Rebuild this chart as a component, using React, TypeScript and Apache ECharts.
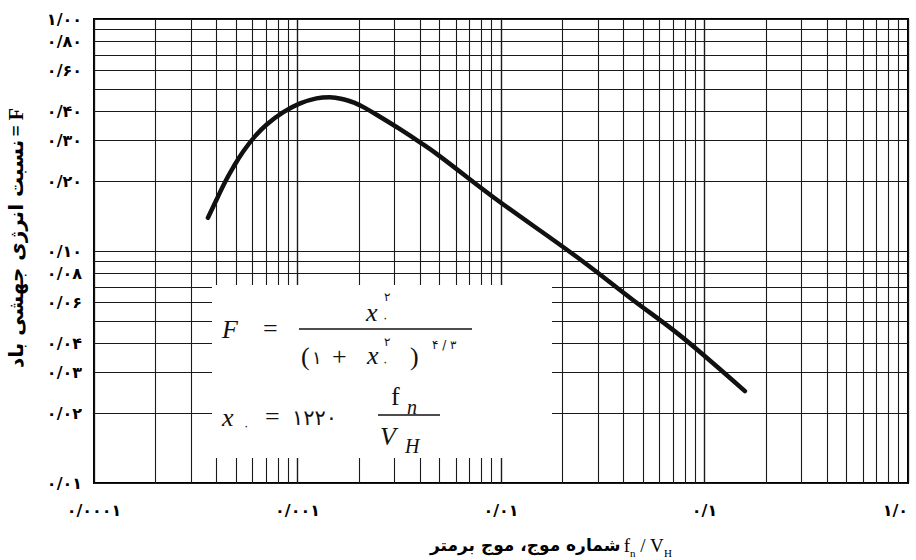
import React, { useEffect, useRef } from "react";
import * as echarts from "echarts";

// Tick labels (Persian digits)
const xTickValues = [0.0001, 0.001, 0.01, 0.1, 1];
const xTickLabels = ["۰/۰۰۰۱", "۰/۰۰۱", "۰/۰۱", "۰/۱", "۱/۰"];
const yTickValues = [1, 0.8, 0.6, 0.4, 0.3, 0.2, 0.1, 0.08, 0.06, 0.04, 0.03, 0.02, 0.01];
const yTickLabels = ["۱/۰۰", "۰/۸۰", "۰/۶۰", "۰/۴۰", "۰/۳۰", "۰/۲۰", "۰/۱۰", "۰/۰۸", "۰/۰۶", "۰/۰۴", "۰/۰۳", "۰/۰۲", "۰/۰۱"];

// Grid-line multipliers within each decade
const gridMultipliers = [1, 2, 3, 4, 5, 6, 7, 8, 9];
const xDecades = [0.0001, 0.001, 0.01, 0.1];
const yDecades = [0.01, 0.1];

// Curve: wave number f_n / V_H vs. energy ratio F
const waveNumber = [
  0.000363, 0.000401, 0.00044, 0.000484, 0.000542, 0.000618, 0.000706,
  0.000852, 0.00103, 0.00124, 0.00144, 0.00168, 0.00192, 0.00211, 0.00254,
  0.00319, 0.004, 0.00492, 0.00914, 0.0236, 0.0445, 0.07, 0.095, 0.158,
];
const energyRatio = [
  0.139, 0.167, 0.198, 0.230, 0.269, 0.312, 0.351,
  0.397, 0.433, 0.455, 0.460, 0.451, 0.434, 0.417, 0.379,
  0.335, 0.294, 0.259, 0.171, 0.0942, 0.0615, 0.0457, 0.0367, 0.0249,
];

const axisTitleY = "نسبت انرژی جهشی باد";
const axisTitleX = "شماره موج، موج برمتر";

export default function App() {
  const ref = useRef<HTMLDivElement>(null);

  useEffect(() => {
    if (!ref.current) return;
    const chart = echarts.init(ref.current, undefined, { renderer: "svg" });

    const xLines: any[] = [];
    xDecades.forEach((d) =>
      gridMultipliers.forEach((m) => {
        const v = m * d;
        if (v > 0.0001 && v < 1) xLines.push({ xAxis: v, label: { show: false } });
      })
    );
    const yLines: any[] = [];
    yDecades.forEach((d) =>
      gridMultipliers.forEach((m) => {
        const v = m * d;
        const idx = yTickValues.findIndex((t) => Math.abs(t - v) < 1e-9);
        yLines.push({
          yAxis: v,
          label: idx >= 0 ? { show: true, formatter: yTickLabels[idx] } : { show: false },
        });
      })
    );
    yLines.push({ yAxis: 1, label: { show: true, formatter: yTickLabels[0] } });

    const serif = "'Liberation Serif', 'DejaVu Serif', serif";
    const persian = "'DejaVu Sans', sans-serif";

    const txt = (x: number, y: number, text: string, opts: any = {}) => ({
      type: "text",
      x,
      y,
      z: 20,
      silent: true,
      style: {
        text,
        fontFamily: opts.fontFamily || serif,
        fontSize: opts.fontSize || 26,
        fontStyle: opts.fontStyle || "normal",
        fill: "#111",
        align: opts.align || "left",
        verticalAlign: "middle",
      },
    });

    chart.setOption({
      animation: false,
      backgroundColor: "#fff",
      grid: {
        left: 94,
        right: 8,
        top: 19,
        bottom: 77,
        show: true,
        borderColor: "#000",
        borderWidth: 2,
        backgroundColor: "transparent",
      },
      xAxis: {
        type: "log",
        logBase: 10,
        min: 0.0001,
        max: 1,
        axisLine: { show: false },
        axisTick: { show: false },
        splitLine: { show: true, lineStyle: { color: "#111", width: 1.3 } },
        axisLabel: {
          margin: 19,
          fontFamily: persian,
          fontWeight: "bold",
          fontSize: 16,
          color: "#000",
          alignMaxLabel: "right",
          formatter: (v: number) => {
            const e = Math.round(Math.log10(v));
            const idx = xTickValues.findIndex((t) => Math.round(Math.log10(t)) === e);
            return idx >= 0 ? xTickLabels[idx] : "";
          },
        },
      },
      yAxis: {
        type: "log",
        logBase: 10,
        min: 0.01,
        max: 1,
        axisLine: { show: false },
        axisTick: { show: false },
        axisLabel: { show: false },
        splitLine: { show: false },
      },
      series: [
        {
          type: "line",
          data: [],
          z: 1,
          silent: true,
          markLine: {
            silent: true,
            precision: 10,
            symbol: ["none", "none"],
            animation: false,
            lineStyle: { color: "#1a1a1a", width: 1.1, type: "solid" },
            label: {
              position: "start",
              distance: 12,
              fontFamily: persian,
              fontWeight: "bold",
              fontSize: 16,
              color: "#000",
            },
            emphasis: { disabled: true },
            data: [...xLines, ...yLines],
          },
        },
        {
          type: "line",
          z: 5,
          silent: true,
          symbol: "none",
          smooth: 0.4,
          lineStyle: { color: "#111", width: 4.5, cap: "round" },
          data: waveNumber.map((x, i) => [x, energyRatio[i]]),
        },
      ],
      graphic: [
        {
          type: "rect",
          z: 10,
          silent: true,
          shape: { x: 212, y: 285, width: 340, height: 173 },
          style: { fill: "#fff" },
        },
        // F = x.^2 / (1 + x.^2)^(4/3)
        txt(222, 329, "F", { fontStyle: "italic" }),
        txt(263, 328, "="),
        txt(366, 312, "x", { fontStyle: "italic" }),
        txt(384, 297, "۲", { fontFamily: persian, fontSize: 12 }),
        txt(382, 318, "۰", { fontFamily: persian, fontSize: 12 }),
        {
          type: "line",
          z: 20,
          silent: true,
          shape: { x1: 299, y1: 329, x2: 472, y2: 329 },
          style: { stroke: "#111", lineWidth: 1.6 },
        },
        txt(301, 356, "(", { fontSize: 26 }),
        txt(312, 357, "۱", { fontFamily: persian, fontSize: 18 }),
        txt(332, 356, "+", { fontSize: 26 }),
        txt(367, 355, "x", { fontStyle: "italic" }),
        txt(384, 342, "۲", { fontFamily: persian, fontSize: 12 }),
        txt(382, 362, "۰", { fontFamily: persian, fontSize: 12 }),
        txt(410, 356, ")", { fontSize: 26 }),
        txt(432, 345, "۴ / ۳", { fontFamily: persian, fontSize: 12 }),
        // x. = 1220 fn / VH
        txt(222, 417, "x", { fontStyle: "italic" }),
        txt(243, 426, "۰", { fontFamily: persian, fontSize: 12 }),
        txt(265, 416, "="),
        txt(292, 418, "۱۲۲۰", { fontFamily: persian, fontSize: 21 }),
        txt(391, 396, "f", { fontSize: 26 }),
        txt(407, 407, "n", { fontStyle: "italic", fontSize: 20 }),
        {
          type: "line",
          z: 20,
          silent: true,
          shape: { x1: 378, y1: 415, x2: 440, y2: 415 },
          style: { stroke: "#111", lineWidth: 1.4 },
        },
        txt(380, 436, "V", { fontStyle: "italic" }),
        txt(405, 446, "H", { fontStyle: "italic", fontSize: 20 }),
        // Y axis title
        {
          type: "text",
          x: 16,
          y: 238,
          rotation: Math.PI / 2,
          z: 20,
          silent: true,
          style: {
            text: "{a|" + axisTitleY + "} {b|= F}",
            align: "center",
            verticalAlign: "middle",
            rich: {
              a: { fontFamily: persian, fontWeight: "bold", fontSize: 20, fill: "#000" },
              b: { fontFamily: serif, fontWeight: "bold", fontSize: 20, fill: "#000" },
            },
          },
        },
        // X axis title
        {
          type: "text",
          x: 430,
          y: 545,
          z: 20,
          silent: true,
          style: {
            text: "{a|" + axisTitleX + "} {b|f}{s|n}{b| / V}{s|H}",
            align: "left",
            verticalAlign: "middle",
            rich: {
              a: { fontFamily: persian, fontWeight: "bold", fontSize: 17, fill: "#000", lineHeight: 26 },
              b: { fontFamily: serif, fontSize: 19, fill: "#000", lineHeight: 26 },
              s: { fontFamily: serif, fontSize: 11, fill: "#000", lineHeight: 26, verticalAlign: "bottom" },
            },
          },
        },
      ],
    });

    return () => chart.dispose();
  }, []);

  return (
    <div
      ref={ref}
      style={{ position: "fixed", left: 0, top: 0, width: 916, height: 560, background: "#fff" }}
    />
  );
}
